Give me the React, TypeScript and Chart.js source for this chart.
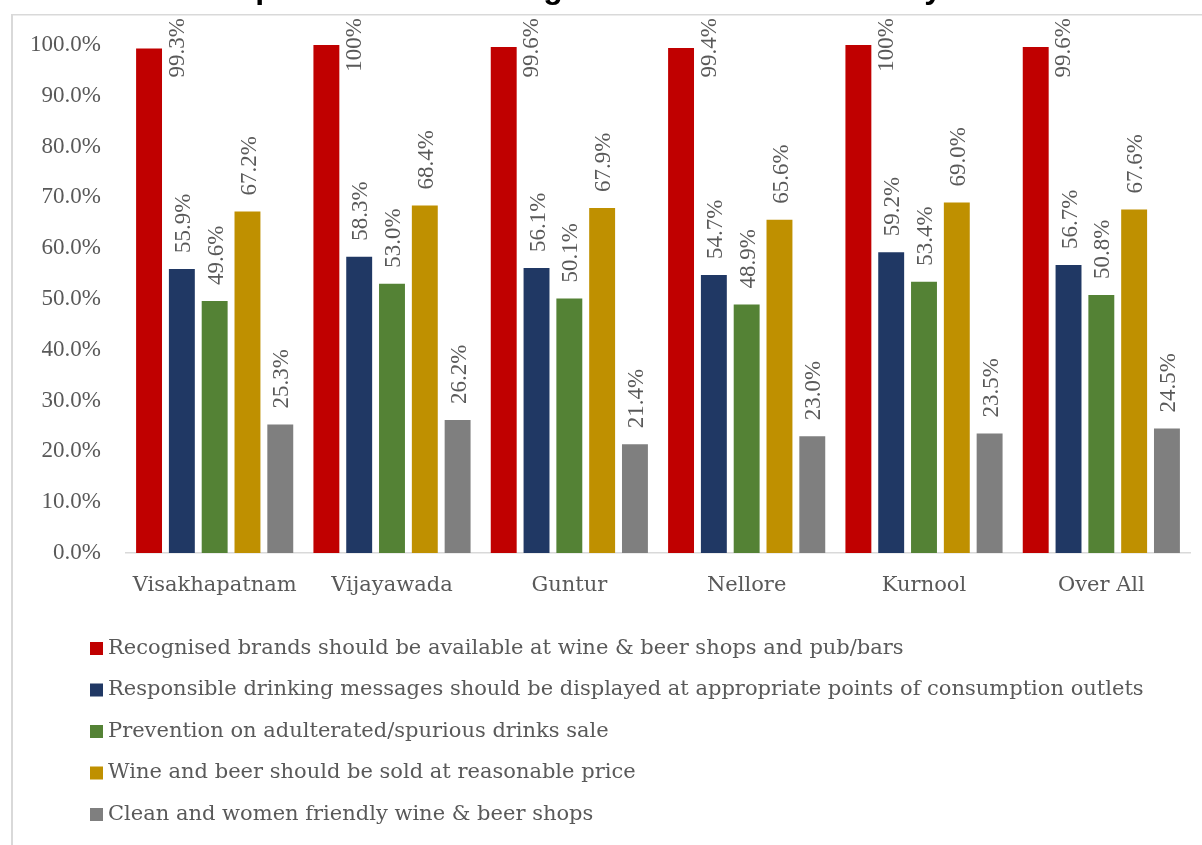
import React, { useEffect, useRef } from "react";
import { Chart, registerables } from "chart.js";

Chart.register(...registerables);

const TITLE = "Chart 5: Opinion on the Recognised Brands Availability in the State";
const categories = ["Visakhapatnam", "Vijayawada", "Guntur", "Nellore", "Kurnool", "Over All"];
const seriesNames = [
  "Recognised brands should be available at wine & beer shops and pub/bars",
  "Responsible drinking messages should be displayed at appropriate points of consumption outlets",
  "Prevention on adulterated/spurious drinks sale",
  "Wine and beer should be sold at reasonable price",
  "Clean and women friendly wine & beer shops",
];
const recognisedBrands = [99.3, 100, 99.6, 99.4, 100, 99.6];
const responsibleMessages = [55.9, 58.3, 56.1, 54.7, 59.2, 56.7];
const preventionAdulterated = [49.6, 53.0, 50.1, 48.9, 53.4, 50.8];
const reasonablePrice = [67.2, 68.4, 67.9, 65.6, 69.0, 67.6];
const cleanShops = [25.3, 26.2, 21.4, 23.0, 23.5, 24.5];
const seriesColors = ["#C00000", "#203864", "#548235", "#BF9000", "#7F7F7F"];
const yTicks = [0, 10, 20, 30, 40, 50, 60, 70, 80, 90, 100];

const FONT = "'Liberation Serif', 'Times New Roman', serif";
const TEXT_FONT = "'DejaVu Serif', serif";
const TEXT = "#595959";

const fmtLabel = (v: number) => (v === 100 ? "100%" : v.toFixed(1) + "%");

const framePlugin = {
  id: "frame",
  beforeDraw(chart: any) {
    const ctx = chart.ctx;
    ctx.save();
    ctx.fillStyle = "#d9d9d9";
    ctx.fillRect(11, 14, 2, chart.height);
    ctx.fillRect(11, 14, chart.width, 1.5);
    // title (mostly above the visible area)
    ctx.fillStyle = "#000000";
    ctx.font = "bold 32px 'Liberation Sans', Arial, sans-serif";
    ctx.textAlign = "center";
    ctx.textBaseline = "alphabetic";
    ctx.fillText(TITLE, 612, -2);
    ctx.restore();
  },
};

const labelPlugin = {
  id: "valueLabels",
  afterDatasetsDraw(chart: any) {
    const ctx = chart.ctx;
    ctx.save();
    ctx.font = `23px ${FONT}`;
    ctx.fillStyle = TEXT;
    ctx.textBaseline = "middle";
    chart.data.datasets.forEach((ds: any, i: number) => {
      const meta = chart.getDatasetMeta(i);
      meta.data.forEach((bar: any, j: number) => {
        const v = ds.data[j];
        const text = fmtLabel(v);
        const w = ctx.measureText(text).width;
        const off = 16;
        ctx.save();
        if (bar.y - off - w < 16) {
          ctx.translate(bar.x + 28.5, 18);
          ctx.rotate(-Math.PI / 2);
          ctx.textAlign = "right";
        } else {
          ctx.translate(bar.x + 2, bar.y - off);
          ctx.rotate(-Math.PI / 2);
          ctx.textAlign = "left";
        }
        ctx.fillText(text, 0, 0);
        ctx.restore();
      });
    });
    ctx.restore();
  },
};

const legendPlugin = {
  id: "customLegend",
  afterDraw(chart: any) {
    const ctx = chart.ctx;
    ctx.save();
    ctx.font = `21px ${TEXT_FONT}`;
    ctx.textBaseline = "middle";
    ctx.textAlign = "left";
    chart.data.datasets.forEach((ds: any, i: number) => {
      const cy = 648.5 + i * 41.5;
      ctx.fillStyle = ds.backgroundColor;
      ctx.fillRect(90, cy - 6.5, 13, 13);
      ctx.fillStyle = TEXT;
      ctx.fillText(ds.label, 108, cy);
    });
    ctx.restore();
  },
};

export default function App() {
  const ref = useRef<HTMLCanvasElement | null>(null);
  useEffect(() => {
    if (!ref.current) return;
    const values = [recognisedBrands, responsibleMessages, preventionAdulterated, reasonablePrice, cleanShops];
    const chart = new Chart(ref.current, {
      type: "bar",
      data: {
        labels: categories,
        datasets: values.map((d, i) => ({
          label: seriesNames[i],
          data: d,
          backgroundColor: seriesColors[i],
          borderWidth: 0,
          categoryPercentage: 0.925,
          barPercentage: 0.79,
        })),
      },
      options: {
        animation: false,
        responsive: false,
        devicePixelRatio: 1,
        layout: { padding: { top: 45, right: 12, left: 0, bottom: 0 } },
        plugins: {
          legend: { display: false },
          title: { display: false },
          tooltip: { enabled: false },
        },
        scales: {
          x: {
            grid: { display: false, drawTicks: false },
            border: { display: true, color: "#d9d9d9", width: 1.5 },
            ticks: { color: TEXT, font: { family: TEXT_FONT, size: 21 }, padding: 20 },
            afterFit: (s: any) => {
              s.height = 292;
            },
          },
          y: {
            min: 0,
            max: 100,
            grid: { display: false, drawTicks: false },
            border: { display: false },
            afterBuildTicks: (s: any) => {
              s.ticks = yTicks.map((v) => ({ value: v }));
            },
            ticks: {
              color: TEXT,
              font: { family: FONT, size: 23 },
              padding: 25,
              callback: (v: any) => Number(v).toFixed(1) + "%",
            },
            afterFit: (s: any) => {
              s.width = 126;
            },
          },
        },
      },
      plugins: [framePlugin, labelPlugin, legendPlugin],
    });
    return () => chart.destroy();
  }, []);
  return (
    <div style={{ position: "fixed", left: 0, top: 0, width: 1202, height: 845, background: "#fff" }}>
      <canvas ref={ref} width={1202} height={845} style={{ display: "block" }} />
    </div>
  );
}
